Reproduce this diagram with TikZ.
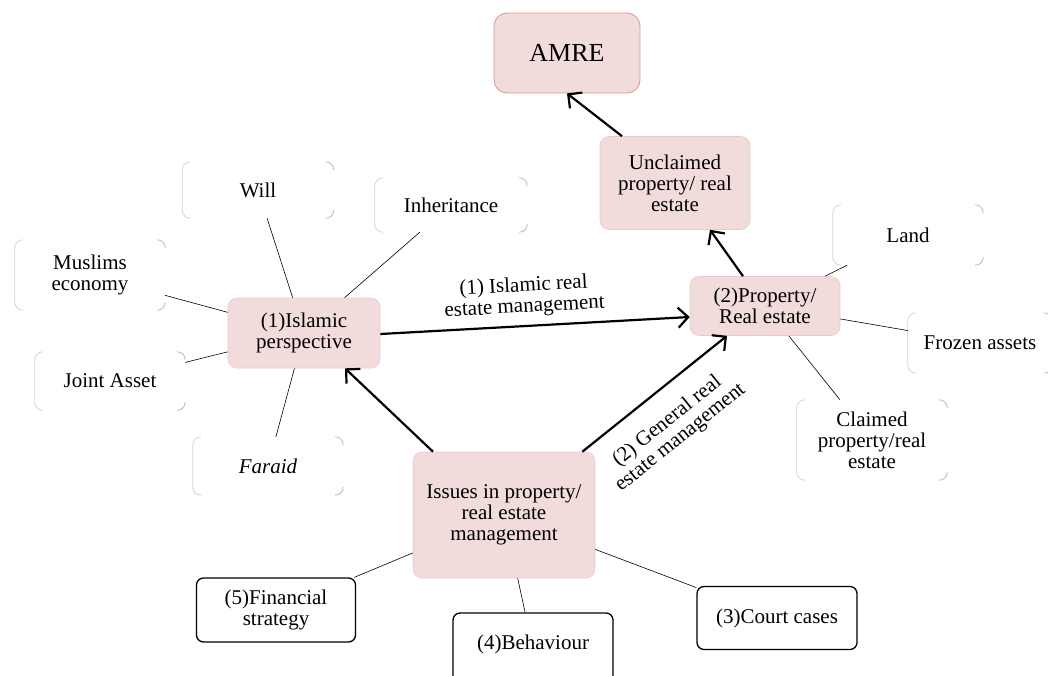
\documentclass[tikz,border=0pt]{standalone}
\usepackage{fontspec}
\setmainfont{Liberation Serif}
\usetikzlibrary{arrows.meta,calc}
\definecolor{pinkfill}{HTML}{F2DCDB}
\definecolor{pinkedge}{HTML}{E9CBCA}
\definecolor{amreedge}{HTML}{D99594}
\newcommand{\fbrk}[1]{%
  \draw[faintl] ([xshift=8pt]#1.north west) arc[start angle=90,end angle=180,radius=8pt] -- ([yshift=8pt]#1.south west) arc[start angle=180,end angle=270,radius=8pt];
  \draw[faintc] ([xshift=-8pt]#1.north east) arc[start angle=90,end angle=0,radius=8pt];
  \draw[faintc] ([yshift=8pt]#1.south east) arc[start angle=0,end angle=-90,radius=8pt];
}
\begin{document}
\begin{tikzpicture}[x=1pt,y=-1pt,
  txt/.style={font=\fontsize{21pt}{21pt}\selectfont, align=center, inner sep=2pt},
  pinkbox/.style={txt, rectangle, rounded corners=9pt, fill=pinkfill, draw=pinkedge, line width=0.6pt},
  amrebox/.style={rectangle, rounded corners=13pt, fill=pinkfill, draw=amreedge, line width=0.8pt, font=\fontsize{26pt}{26pt}\selectfont},
  faintbox/.style={txt, rectangle},
  blackbox/.style={txt, rectangle, rounded corners=7pt, fill=white, draw=black, line width=1.3pt},
  faintl/.style={draw=gray!35, line width=0.8pt},
  faintc/.style={draw=gray!55, line width=0.8pt},
  link/.style={draw=black, line width=0.6pt},
  bigarrow/.style={draw=black, line width=2.2pt, -{Straight Barb[length=10pt,width=20pt]}},
  lbl/.style={font=\fontsize{21pt}{21pt}\selectfont, align=center, inner sep=2pt}
]
\useasboundingbox (0,0) rectangle (1048,675);

% main pink boxes
\node[amrebox, minimum width=146pt, minimum height=80pt] (amre) at (567,53) {AMRE};
\node[pinkbox, minimum width=150pt, minimum height=93pt] (unclaimed) at (675,183) {Unclaimed\\property/ real\\estate};
\node[pinkbox, minimum width=150pt, minimum height=59pt] (prop) at (765,306) {(2)Property/\\Real estate};
\node[pinkbox, minimum width=152pt, minimum height=70pt] (islamic) at (304,333) {(1)Islamic\\perspective};
\node[pinkbox, minimum width=182pt, minimum height=126pt] (issues) at (504,515) {Issues in property/\\real estate\\management};

% faint boxes
\node[faintbox, minimum width=151pt, minimum height=56pt] (will) at (258,190) {Will};
\node[faintbox, minimum width=152pt, minimum height=54pt] (inher) at (451,205) {Inheritance};
\node[faintbox, minimum width=150pt, minimum height=70pt] (muslims) at (90,275) {Muslims\\economy};
\node[faintbox, minimum width=150pt, minimum height=58pt] (joint) at (110,381) {Joint Asset};
\node[faintbox, minimum width=150pt, minimum height=58pt] (faraid) at (268,466) {\itshape Faraid};
\node[faintbox, minimum width=150pt, minimum height=60pt] (land) at (908,235) {Land};
\node[faintbox, minimum width=144pt, minimum height=60pt] (frozen) at (980,343) {Frozen assets};
\node[faintbox, minimum width=150pt, minimum height=80pt] (claimed) at (872,440) {Claimed\\property/real\\estate};
\foreach \n in {will,inher,muslims,joint,faraid,land,frozen,claimed} {\fbrk{\n}}

% black boxes
\node[blackbox, minimum width=159pt, minimum height=64pt] (fin) at (276,610) {(5)Financial\\strategy};
\node[blackbox, minimum width=160pt, minimum height=72pt, text depth=14pt] (beh) at (533,649) {(4)Behaviour};
\node[blackbox, minimum width=160pt, minimum height=63pt] (court) at (777,618) {(3)Court cases};

% thin links
\draw[link] (will) -- (islamic);
\draw[link] (inher) -- (islamic);
\draw[link] (muslims) -- (islamic);
\draw[link] (joint) -- (islamic);
\draw[link] (faraid) -- (islamic);
\draw[link] (land) -- (prop);
\draw[link] (frozen) -- (prop);
\draw[link] (claimed) -- (prop);
\draw[link] (issues) -- (fin);
\draw[link] (issues) -- (beh);
\draw[link] (issues) -- (court);

% thick arrows
\draw[bigarrow] ([xshift=-53pt]unclaimed.north) -- (amre.south);
\draw[bigarrow] ([xshift=-22pt]prop.north) -- ([xshift=35pt]unclaimed.south);
\draw[bigarrow] ([yshift=-1pt]islamic.east) -- node[lbl, pos=0.47, sloped, above=6pt] {(1) Islamic real\\estate management} ([yshift=-11pt]prop.west);
\draw[bigarrow] ([xshift=-71pt]issues.north) -- ([xshift=41pt]islamic.south);
\draw[bigarrow] ([xshift=-13pt]issues.north east) -- node[lbl, pos=0.46, sloped, below=17pt] {(2) General real\\estate management} ([xshift=-38pt]prop.south);
\end{tikzpicture}
\end{document}
